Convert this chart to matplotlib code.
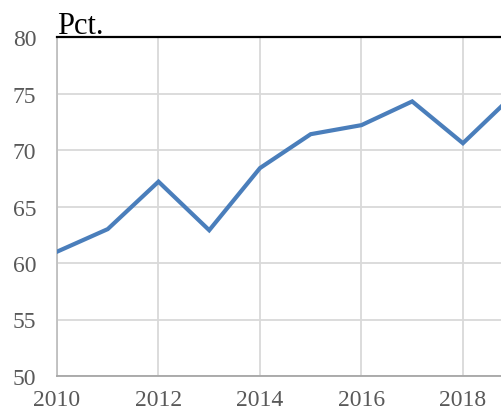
import matplotlib
matplotlib.use("Agg")
import matplotlib.pyplot as plt

years = [2010, 2011, 2012, 2013, 2014, 2015, 2016, 2017, 2018, 2019]
values = [61.0, 63.0, 67.2, 62.9, 68.4, 71.4, 72.2, 74.3, 70.6, 74.9]
x_ticks = [2010, 2012, 2014, 2016, 2018]
y_ticks = [50, 55, 60, 65, 70, 75, 80]
unit_label = "Pct."

plt.rcParams['font.family'] = ['Liberation Serif', 'DejaVu Serif']

fig = plt.figure(figsize=(5.02, 4.14), dpi=100)
ax = fig.add_axes([57/502, 1 - 377/414, 1 - 57/502, (377 - 38)/414])

ax.plot(years, values, color='#4a7ebb', linewidth=3.0, solid_joinstyle='miter', zorder=3)

ax.set_xlim(2010, 2018.77)
ax.set_ylim(50, 80)
ax.set_xticks(x_ticks)
ax.set_yticks(y_ticks)
ax.grid(True, color='#d9d9d9', linewidth=1.3)
ax.set_axisbelow(True)

ax.tick_params(axis='both', length=0, labelsize=17, labelcolor='#595959')
ax.tick_params(axis='y', pad=15)
ax.tick_params(axis='x', pad=9.5)

ax.spines['right'].set_visible(False)
ax.spines['top'].set_color('black')
ax.spines['top'].set_linewidth(1.6)
ax.spines['left'].set_color('#bfbfbf')
ax.spines['left'].set_linewidth(1.3)
ax.spines['bottom'].set_color('#a6a6a6')
ax.spines['bottom'].set_linewidth(1.3)

fig.text(57/502, 1 - 33.5/414, unit_label, fontsize=22, color='black', ha='left', va='baseline')

fig.savefig("out.png", dpi=100)
